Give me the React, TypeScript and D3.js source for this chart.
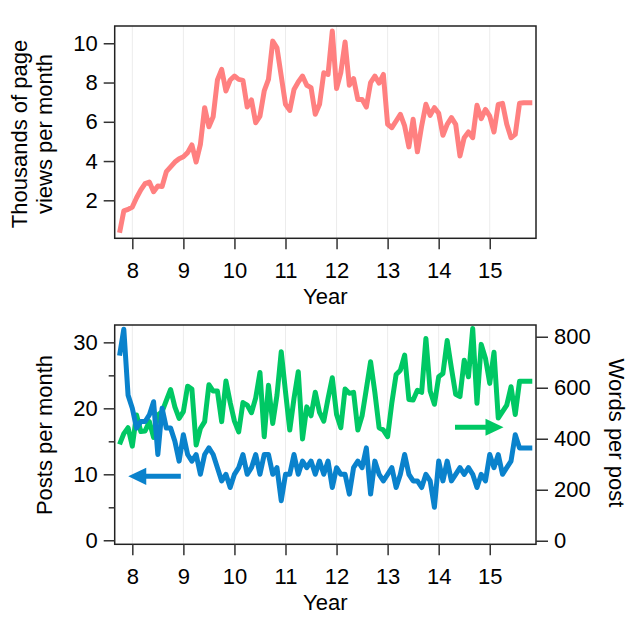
import React, { useEffect, useRef } from "react";
import * as d3 from "d3";

// monthly series, first point is Oct 2007 (year 7.75)
const startYear = 7.75;
const yearTicks = [8, 9, 10, 11, 12, 13, 14, 15];

const pageViews = [
  0.35, 1.46, 1.54, 1.66, 2.13, 2.53, 2.85, 2.93, 2.44, 2.73,
  2.7, 3.46, 3.7, 3.95, 4.12, 4.22, 4.43, 4.82, 3.95, 4.85,
  6.72, 5.75, 6.26, 8.13, 8.67, 7.57, 8.13, 8.33, 8.16, 8.11,
  6.75, 7.11, 5.95, 6.29, 7.57, 8.16, 10.11, 9.77, 8.33, 6.89,
  6.58, 7.65, 8.03, 8.33, 7.86, 7.74, 6.38, 6.89, 8.5, 8.41,
  10.62, 7.69, 8.5, 10.06, 7.86, 8.2, 7.14, 7.14, 6.75, 8.0,
  8.33, 7.97, 8.41, 5.87, 5.7, 6.04, 6.38, 5.79, 4.72, 6.13,
  4.47, 5.79, 6.89, 6.33, 6.72, 6.43, 5.31, 5.87, 6.21, 5.87,
  4.26, 5.19, 5.48, 5.19, 6.84, 6.16, 6.63, 6.29, 5.48, 6.89,
  6.94, 5.87, 5.19, 5.36, 6.94, 6.97, 6.97, 6.97,
];

const posts = [
  28, 32, 22, 20, 17, 18, 18, 19, 21, 13,
  20, 17, 17, 15, 12, 16, 13, 12, 13, 10,
  13, 14, 13, 11, 9, 10, 8, 10, 11, 13,
  10, 11, 13, 10, 13, 13, 10, 11, 6, 10,
  10, 13, 10, 12, 11, 12, 10, 12, 10, 12,
  8, 11, 10, 10, 7, 11, 12, 11, 14, 7,
  12, 10, 9, 10, 11, 8, 10, 13, 10, 9,
  9, 8, 10, 9, 5, 12, 9, 12, 9, 10,
  11, 10, 11, 10, 8, 10, 9, 13, 11, 13,
  10, 11, 12, 16, 14, 14, 14, 14,
];

const wordsPerPost = [
  378, 420, 443, 371, 493, 428, 430, 467, 405, 493,
  506, 550, 593, 525, 480, 506, 606, 595, 375, 440,
  467, 612, 587, 587, 467, 626, 542, 469, 427, 542,
  532, 502, 560, 660, 408, 610, 460, 571, 741, 584,
  434, 558, 663, 399, 525, 490, 582, 503, 469, 558,
  639, 495, 443, 595, 578, 582, 434, 490, 595, 702,
  582, 443, 434, 408, 542, 652, 669, 728, 554, 552,
  590, 582, 793, 587, 535, 643, 656, 785, 676, 574,
  565, 708, 643, 832, 539, 770, 715, 617, 739, 481,
  506, 532, 604, 495, 625, 625, 625, 625,
];

const pageTicks = [2, 4, 6, 8, 10];
const postTicks = [0, 10, 20, 30];
const postMinorTicks = [5, 15, 25];
const wordTicks = [0, 200, 400, 600, 800];

// arrow annotations: [x from, x to] in years, at a level of their own axis
const postsArrowX = [8.95, 7.92];
const postsArrowY = 9.7;
const wordsArrowX = [14.32, 15.27];
const wordsArrowY = 445;

const font = "'Liberation Sans', Arial, sans-serif";
const fontSize = 22;
const pink = "#ff8080";
const green = "#00c864";
const blue = "#0a82cc";

export default function App() {
  const ref = useRef<SVGSVGElement>(null);

  useEffect(() => {
    const svg = d3.select(ref.current);
    svg.selectAll("*").remove();

    const months = pageViews.map((_, i) => startYear + i / 12);
    const left = 114.7, right = 536;
    const x = d3.scaleLinear().domain([7.655, 15.906]).range([left, right]);

    const yTop = d3.scaleLinear().domain([0.064, 10.88]).range([238.3, 26]);
    const yPosts = d3.scaleLinear().domain([-0.61, 32.63]).range([544.3, 325]);
    const yWords = d3.scaleLinear().domain([-14, 846]).range([544.3, 325]);

    const styleAxis = (g: d3.Selection<SVGGElement, unknown, null, undefined>) => {
      g.attr("font-size", fontSize).attr("font-family", font);
      g.select(".domain").remove();
      g.selectAll(".tick line").attr("stroke", "#333").attr("stroke-width", 1.5);
      g.selectAll(".tick text").attr("fill", "#000");
    };

    const title = (sel: d3.Selection<SVGTextElement, unknown, null, undefined>) =>
      sel.attr("text-anchor", "middle").attr("font-size", fontSize).attr("font-family", font);

    const panel = (y0: number, y1: number) => {
      const g = svg.append("g");
      g.selectAll(".grid")
        .data(yearTicks)
        .join("line")
        .attr("x1", (d) => x(d))
        .attr("x2", (d) => x(d))
        .attr("y1", y0)
        .attr("y2", y1)
        .attr("stroke", "#ececec")
        .attr("stroke-width", 1);

      svg.append("g")
        .attr("transform", `translate(0, ${y1})`)
        .call(d3.axisBottom(x).tickValues(yearTicks).tickSize(11).tickPadding(13).tickFormat(d3.format("d")))
        .call(styleAxis);

      svg.append("text")
        .attr("x", (left + right) / 2)
        .attr("y", y1 + 66)
        .call(title)
        .text("Year");
      return g;
    };

    // ---- top panel
    const top = panel(26, 238.3);
    svg.append("g")
      .attr("transform", `translate(${left}, 0)`)
      .call(d3.axisLeft(yTop).tickValues(pageTicks).tickSize(11).tickPadding(6))
      .call(styleAxis);

    top.append("path")
      .datum(pageViews)
      .attr("fill", "none")
      .attr("stroke", pink)
      .attr("stroke-width", 5)
      .attr("stroke-linejoin", "round")
      .attr("d", d3.line<number>().x((_, i) => x(months[i])).y((d) => yTop(d)));

    top.append("rect")
      .attr("x", left).attr("y", 26)
      .attr("width", right - left).attr("height", 238.3 - 26)
      .attr("fill", "none").attr("stroke", "#222").attr("stroke-width", 1.5);

    svg.append("text")
      .attr("transform", `translate(0, 134) rotate(-90)`)
      .call(title)
      .call((t) => {
        t.append("tspan").attr("x", 0).attr("y", 27).text("Thousands of page");
        t.append("tspan").attr("x", 0).attr("y", 52).text("views per month");
      });

    // ---- bottom panel
    const bot = panel(325, 544.3);
    svg.append("g")
      .attr("transform", `translate(${left}, 0)`)
      .call(d3.axisLeft(yPosts).tickValues(postTicks).tickSize(11).tickPadding(6))
      .call(styleAxis);
    svg.append("g")
      .attr("transform", `translate(${left}, 0)`)
      .call(d3.axisLeft(yPosts).tickValues(postMinorTicks).tickSize(6).tickFormat(() => ""))
      .call(styleAxis);
    svg.append("g")
      .attr("transform", `translate(${right}, 0)`)
      .call(d3.axisRight(yWords).tickValues(wordTicks).tickSize(12).tickPadding(6))
      .call(styleAxis);

    bot.append("path")
      .datum(wordsPerPost)
      .attr("fill", "none")
      .attr("stroke", green)
      .attr("stroke-width", 5)
      .attr("stroke-linejoin", "round")
      .attr("d", d3.line<number>().x((_, i) => x(months[i])).y((d) => yWords(d)));

    bot.append("path")
      .datum(posts)
      .attr("fill", "none")
      .attr("stroke", blue)
      .attr("stroke-width", 5)
      .attr("stroke-linejoin", "round")
      .attr("d", d3.line<number>().x((_, i) => x(months[i])).y((d) => yPosts(d)));

    const arrow = (xs: number[], yPix: number, color: string) => {
      const x0 = x(xs[0]), x1 = x(xs[1]);
      const dir = Math.sign(x1 - x0);
      const head = 18, half = 8.6;
      bot.append("line")
        .attr("x1", x0).attr("x2", x1 - dir * head + dir * 1)
        .attr("y1", yPix).attr("y2", yPix)
        .attr("stroke", color).attr("stroke-width", 5);
      bot.append("path")
        .attr("d", `M${x1},${yPix}L${x1 - dir * head},${yPix - half}L${x1 - dir * head},${yPix + half}Z`)
        .attr("fill", color);
    };
    arrow(postsArrowX, yPosts(postsArrowY), blue);
    arrow(wordsArrowX, yWords(wordsArrowY), green);

    bot.append("rect")
      .attr("x", left).attr("y", 325)
      .attr("width", right - left).attr("height", 544.3 - 325)
      .attr("fill", "none").attr("stroke", "#222").attr("stroke-width", 1.5);

    svg.append("text")
      .attr("transform", `translate(0, 435) rotate(-90)`)
      .attr("y", 52)
      .call(title)
      .text("Posts per month");

    svg.append("text")
      .attr("transform", `translate(609, 433) rotate(90)`)
      .attr("y", 0)
      .call(title)
      .text("Words per post");
  }, []);

  return (
    <svg
      ref={ref}
      width={640}
      height={622}
      style={{ position: "absolute", left: 0, top: 0, background: "#fff" }}
    />
  );
}
